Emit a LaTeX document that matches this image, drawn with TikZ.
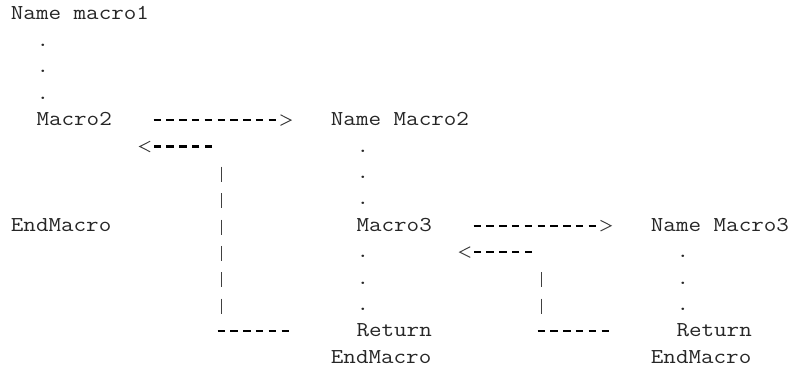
\documentclass[tikz,border=0pt]{standalone}
\usepackage{fontspec}
\newfontfamily\codefont{Latin Modern Mono}[FakeStretch=1.15]
\begin{document}
% One unit in x is one character cell, one unit in y is one text line;
% (0,0) is the left edge of column 0 on the baseline of line 0.
\begin{tikzpicture}[x=12.8pt,y=-26.4pt,
  code/.style={font=\codefont\fontsize{21.2}{26.4}\selectfont, text=black!85,
               inner sep=0pt, anchor=base west},
  dashrule/.style={line width=2.3pt, dash pattern=on 7.5pt off 5.3pt},
  barrule/.style={line width=1.2pt, black!75, dash pattern=on 15pt off 11.4pt},
  chevron/.style={line width=1pt, black!75, line join=miter}]
\useasboundingbox (-10.7pt,20pt) rectangle (784.3pt,-352pt);

% ---- outer macro ----
\node[code] (name1) at (0,0) {Name macro1};
\node[code] (d1a) at (2,1) {.};
\node[code] (d1b) at (2,2) {.};
\node[code] (d1c) at (2,3) {.};
\node[code] (call2) at (2,4) {Macro2};
\node[code] (end1) at (0,8) {EndMacro};

% ---- Macro2 ----
\node[code] (name2) at (25,4) {Name Macro2};
\node[code] (d2a) at (27,5) {.};
\node[code] (d2b) at (27,6) {.};
\node[code] (d2c) at (27,7) {.};
\node[code] (call3) at (27,8) {Macro3};
\node[code] (d2d) at (27,9) {.};
\node[code] (d2e) at (27,10) {.};
\node[code] (d2f) at (27,11) {.};
\node[code] (ret2) at (27,12) {Return};
\node[code] (end2) at (25,13) {EndMacro};

% ---- Macro3 ----
\node[code] (name3) at (50,8) {Name Macro3};
\node[code] (d3a) at (52,9) {.};
\node[code] (d3b) at (52,10) {.};
\node[code] (d3c) at (52,11) {.};
\node[code] (ret3) at (52,12) {Return};
\node[code] (end3) at (50,13) {EndMacro};

% ---- call and return paths (at hyphen height) ----
\begin{scope}[yshift=5.5pt]
  % call Macro2
  \coordinate (c2s) at ([xshift=2pt]11,4);
  \coordinate (c2e) at ([xshift=-3.3pt]21,4);
  \coordinate (c2t) at ([xshift=11.5pt]21,4);
  % return from Macro2
  \coordinate (r2a) at ([xshift=2pt]16,12);
  \coordinate (r2b) at ([xshift=9.5pt]21,12);
  \coordinate (r2c) at ([xshift=9.5pt]15,5);
  \coordinate (r2d) at ([xshift=-1.3pt]11,5);
  \coordinate (r2t) at ([xshift=1pt]10,5);
  % call Macro3
  \coordinate (c3s) at ([xshift=2pt]36,8);
  \coordinate (c3e) at ([xshift=-3.3pt]46,8);
  \coordinate (c3t) at ([xshift=11.5pt]46,8);
  % return from Macro3
  \coordinate (r3a) at ([xshift=2pt]41,12);
  \coordinate (r3b) at ([xshift=9.5pt]46,12);
  \coordinate (r3c) at ([xshift=9.5pt]40,9);
  \coordinate (r3d) at ([xshift=-1.3pt]36,9);
  \coordinate (r3t) at ([xshift=1pt]35,9);
\end{scope}

% vertical bars of the return paths
\coordinate (v2top) at ([xshift=5.8pt,yshift=11.7pt]16,6);
\coordinate (v2bot) at ([xshift=5.8pt,yshift=-3.3pt]16,11);
\coordinate (v3top) at ([xshift=5.8pt,yshift=11.7pt]41,10);
\coordinate (v3bot) at ([xshift=5.8pt,yshift=-3.3pt]41,11);

% Macro2 call
\draw[dashrule] (c2s) -- (c2e);
\draw[chevron] ([xshift=-10.5pt,yshift=5.3pt]c2t) -- (c2t) -- ([xshift=-10.5pt,yshift=-5.3pt]c2t);
% Macro2 return
\draw[dashrule] (r2a) -- (r2b);
\draw[barrule] (v2top) -- (v2bot);
\draw[dashrule] (r2c) -- (r2d);
\draw[chevron] ([xshift=10.5pt,yshift=5.3pt]r2t) -- (r2t) -- ([xshift=10.5pt,yshift=-5.3pt]r2t);

% Macro3 call
\draw[dashrule] (c3s) -- (c3e);
\draw[chevron] ([xshift=-10.5pt,yshift=5.3pt]c3t) -- (c3t) -- ([xshift=-10.5pt,yshift=-5.3pt]c3t);
% Macro3 return
\draw[dashrule] (r3a) -- (r3b);
\draw[barrule] (v3top) -- (v3bot);
\draw[dashrule] (r3c) -- (r3d);
\draw[chevron] ([xshift=10.5pt,yshift=5.3pt]r3t) -- (r3t) -- ([xshift=10.5pt,yshift=-5.3pt]r3t);
\end{tikzpicture}
\end{document}
